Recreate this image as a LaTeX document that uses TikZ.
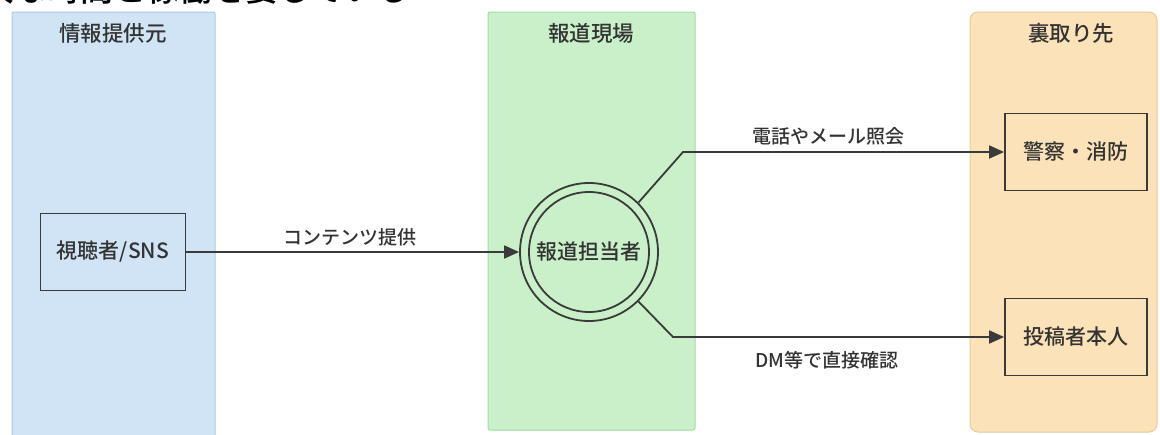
\documentclass[tikz,border=0pt]{standalone}
\usepackage{fontspec}
\setmainfont{Noto Sans CJK JP}[UprightFont={* Medium}]
\usetikzlibrary{arrows.meta}
\definecolor{txt}{HTML}{333333}
\definecolor{lnc}{HTML}{3A3A3A}
\definecolor{blueF}{HTML}{D0E4F5}
\definecolor{blueD}{HTML}{A9CBE3}
\definecolor{greenF}{HTML}{C9F0C9}
\definecolor{greenD}{HTML}{A3DCA3}
\definecolor{orangeF}{HTML}{FBE2B8}
\definecolor{orangeD}{HTML}{EACB97}
\begin{document}
\begin{tikzpicture}[x=1pt,y=-1pt,
  lane/.style={line width=1pt, rounded corners=2pt},
  lanetitle/.style={text=txt, font=\fontsize{21.5}{25}\selectfont},
  box/.style={draw=lnc, line width=1.8pt, text=txt, minimum width=142pt, minimum height=77pt, font=\fontsize{21}{25}\selectfont, inner sep=0pt},
  lbl/.style={text=txt, font=\fontsize{19}{22}\selectfont},
  conn/.style={draw=lnc, line width=1.8pt, -{Triangle[length=15pt,width=13pt]}}]
\useasboundingbox[fill=white] (0,0) rectangle (1160,434);
% partially visible heading above
\node[anchor=base west, inner sep=0pt, font=\fontsize{33}{36}\selectfont, text=black] (head) at (-19,1.5) {大な時間と稼働を要している};
% lanes
\draw[lane, fill=blueF, draw=blueD] (12,12) rectangle (215,440);
\draw[lane, fill=greenF, draw=greenD] (488,12) rectangle (695,430);
\draw[lane, fill=orangeF, draw=orangeD, rounded corners=8pt] (970,12) rectangle (1157,432);
\node[lanetitle] (t1) at (113,33) {情報提供元};
\node[lanetitle] (t2) at (591,33) {報道現場};
\node[lanetitle] (t3) at (1071,33) {裏取り先};
% nodes
\node[box, minimum width=145pt] (viewer) at (113,252) {視聴者/SNS};
\node[circle, draw=lnc, line width=1.8pt, minimum size=138pt, inner sep=0pt] (circ) at (589,252) {};
\node[circle, draw=lnc, line width=1.8pt, minimum size=120pt, inner sep=0pt, text=txt, font=\fontsize{21}{25}\selectfont] (reporter) at (589,252) {報道担当者};
\node[box] (police) at (1076,152) {警察・消防};
\node[box] (poster) at (1076,337) {投稿者本人};
% connectors
\coordinate (bendA) at (683,152);
\coordinate (bendB) at (673,337);
\draw[conn] (viewer.east) -- (circ.west);
\draw[conn] (circ.45) -- (bendA) -- (police.west);
\draw[conn] (circ.-45) -- (bendB) -- (poster.west);
% labels
\node[lbl] (l1) at (350,237) {コンテンツ提供};
\node[lbl] (l2) at (828,136) {電話やメール照会};
\node[lbl] (l3) at (827,360) {DM等で直接確認};
\end{tikzpicture}
\end{document}
